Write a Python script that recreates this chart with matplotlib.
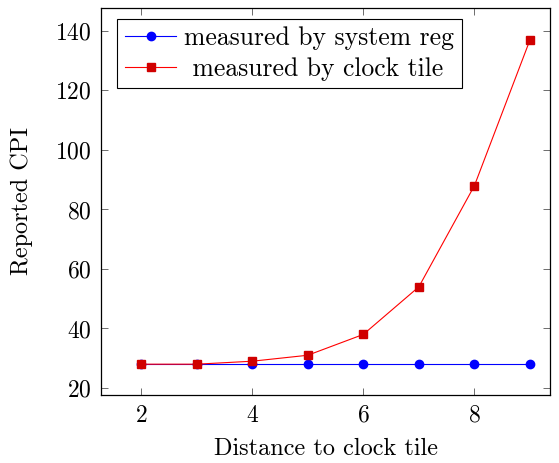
import matplotlib.pyplot as plt

plt.rcParams['font.family'] = 'cmr10'
plt.rcParams['mathtext.fontset'] = 'cm'
plt.rcParams['axes.formatter.use_mathtext'] = True

distance = [2, 3, 4, 5, 6, 7, 8, 9]
system_reg = [28, 28, 28, 28, 28, 28, 28, 28]
clock_tile = [28, 28, 29, 31, 38, 54, 88, 137]

fig = plt.figure(figsize=(5.59, 4.63), dpi=100)
ax = fig.add_axes([0.1807, 0.1469, 0.8032, 0.8358])

ax.plot(distance, system_reg, color='blue', marker='o', markersize=6, linewidth=0.8,
        label='measured by system reg')
ax.plot(distance, clock_tile, color='red', marker='s', markersize=6, linewidth=0.8,
        markerfacecolor='#d00000', markeredgecolor='#d00000', label=' measured by clock tile')

ax.set_xlim(1.28, 9.36)
ax.set_ylim(17.65, 147.7)
ax.set_xticks([2, 4, 6, 8])
ax.set_yticks([20, 40, 60, 80, 100, 120, 140])
ax.tick_params(direction='in', top=True, right=True, labelsize=17, length=5, width=0.6,
               color='#555555', pad=7)
for s in ax.spines.values():
    s.set_linewidth(0.9)

ax.set_xlabel('Distance to clock tile', fontsize=17.5, labelpad=8)
ax.set_ylabel('Reported CPI', fontsize=17.5, labelpad=16)

leg = ax.legend(loc='upper left', bbox_to_anchor=(0.025, 0.985), fontsize=18.5, fancybox=False,
                edgecolor='black', framealpha=1, handlelength=2.0, borderpad=0.3,
                labelspacing=0.25, handletextpad=0.3, borderaxespad=0.2)
leg.get_frame().set_linewidth(0.8)

fig.savefig('out.png', dpi=100)
